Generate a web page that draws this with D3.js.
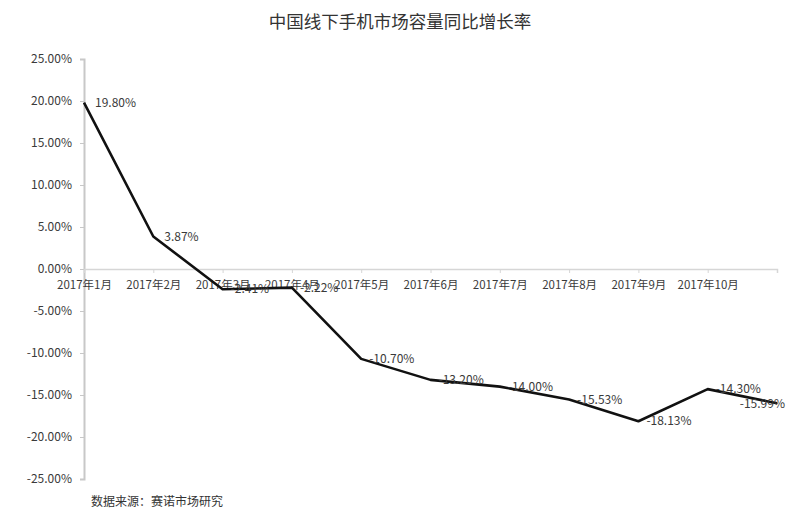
<!DOCTYPE html>
<html lang="zh">
<head>
<meta charset="UTF-8" />
<title>中国线下手机市场容量同比增长率</title>
<script src="https://cdn.jsdelivr.net/npm/d3@7/dist/d3.min.js"></script>
<style>
  body { margin: 0; background: #fff; }
  text { font-family: "Noto Sans CJK SC", "Noto Sans", sans-serif; fill: #3a3a3a; }
  .y-axis path, .y-axis line { stroke: #c8c8c8; }
  .x-axis path, .x-axis line { stroke: #d6d6d6; }
</style>
</head>
<body>
<script>
// months shown on the category axis (the last point has no label)
var months = ["2017年1月", "2017年2月", "2017年3月", "2017年4月", "2017年5月",
              "2017年6月", "2017年7月", "2017年8月", "2017年9月", "2017年10月"];
// year-on-year growth, %
var growth = [19.80, 3.87, -2.41, -2.22, -10.70, -13.20, -14.00, -15.53, -18.13, -14.30, -15.99];
var yTicks = [25, 20, 15, 10, 5, 0, -5, -10, -15, -20, -25];

var w = 800, h = 525;

// plain hyphen minus, like the original
function pct(v) { return v.toFixed(2) + "%"; }

var svg = d3.select("body").append("svg")
    .attr("width", w)
    .attr("height", h);

svg.append("rect").attr("width", w).attr("height", h).attr("fill", "#fff");

// title
svg.append("text")
    .attr("x", 400)
    .attr("y", 28)
    .attr("text-anchor", "middle")
    .style("font-size", "17.5px")
    .style("fill", "#333")
    .text("中国线下手机市场容量同比增长率");

var xScale = d3.scalePoint()
    .domain(d3.range(growth.length))
    .range([84, 777]);

var yScale = d3.scaleLinear()
    .domain([-25, 25])
    .range([479, 59]);

// y axis
var yAxis = d3.axisLeft(yScale)
    .tickValues(yTicks)
    .tickSize(4)
    .tickPadding(8)
    .tickFormat(pct);

svg.append("g")
    .attr("class", "y-axis")
    .attr("transform", "translate(84,0)")
    .call(yAxis)
    .call(function(g) {
      g.select(".domain").attr("stroke-width", 2);
      g.selectAll("text").style("font-size", "12px").style("fill", "#3a3a3a");
    });

// x axis sits on the zero line
var xAxis = d3.axisBottom(xScale)
    .tickValues(d3.range(months.length))
    .tickSizeOuter(0)
    .tickSize(4)
    .tickPadding(8)
    .tickFormat(function(i) { return months[i]; });

svg.append("g")
    .attr("class", "x-axis")
    .attr("transform", "translate(0," + yScale(0) + ")")
    .call(xAxis)
    .call(function(g) {
      g.select(".domain").attr("stroke-width", 1.5);
      g.selectAll("text").style("font-size", "11.5px").style("fill", "#3a3a3a");
    });

// the line
var line = d3.line()
    .x(function(d, i) { return xScale(i); })
    .y(function(d) { return yScale(d); });

svg.append("path")
    .datum(growth)
    .attr("fill", "none")
    .attr("stroke", "#111")
    .attr("stroke-width", 2.6)
    .attr("stroke-linejoin", "round")
    .attr("d", line);

// value labels, the last one pulled back to the left of its point
svg.selectAll("text.value")
    .data(growth)
    .enter()
    .append("text")
    .attr("class", "value")
    .attr("x", function(d, i) {
      return i === growth.length - 1 ? xScale(i) + 8 : xScale(i) + (d < 0 ? 8 : 11);
    })
    .attr("y", function(d) { return yScale(d); })
    .attr("dy", "0.35em")
    .attr("text-anchor", function(d, i) { return i === growth.length - 1 ? "end" : "start"; })
    .style("font-size", "12px")
    .text(pct);

// source note
svg.append("text")
    .attr("x", 91)
    .attr("y", 506)
    .style("font-size", "12px")
    .style("fill", "#333")
    .text("数据来源：赛诺市场研究");
</script>
</body>
</html>
